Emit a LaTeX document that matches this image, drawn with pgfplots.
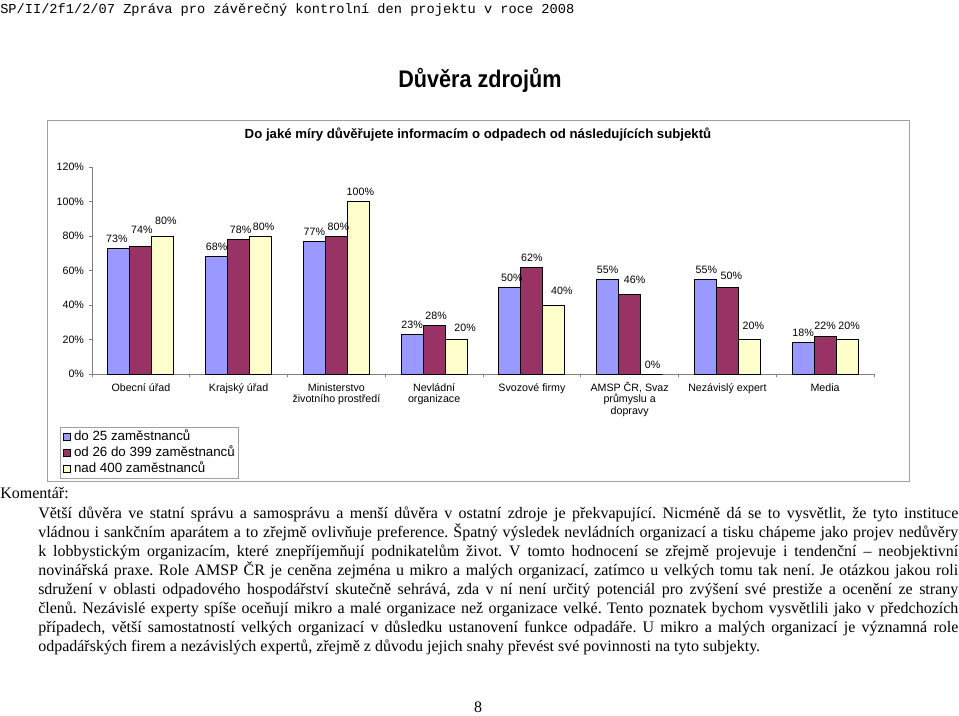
\documentclass[border=0pt]{standalone}
\usepackage{fontspec}
\setmainfont{Liberation Sans}
\newfontfamily\serif{Liberation Serif}
\newfontfamily\mono{Liberation Mono}
\newfontfamily\narrow[FakeStretch=0.9]{Liberation Sans}
\usepackage{pgfplots}
\usepackage{pgfplotstable}
\pgfplotsset{compat=1.18}
\definecolor{cA}{HTML}{9999FF}
\definecolor{cB}{HTML}{993366}
\definecolor{cC}{HTML}{FFFFCC}
\definecolor{frame}{HTML}{A0A0A0}
\definecolor{axl}{HTML}{808080}
\newcommand\cs{\rule{0pt}{8pt}}

\pgfplotstableread{
x y dx dy
1 73 -2 0
2 68 0 0
3 77 0 0
4 23 0 0
5 50 2 0
6 55 0 0
7 55 1 0
8 18 0 1
}\tA
\pgfplotstableread{
x y dx dy
1 74 1 7
2 78 2 0
3 80 2 0
4 28 2 0
5 62 0 0
6 46 5 5
7 50 4 2
8 22 0 1
}\tB
\pgfplotstableread{
x y dx dy
1 80 3 6
2 80 3 0
3 100 2 0
4 20 9 2
5 40 8 4.5
6 0 1 0
7 20 4 4
8 20 2 4
}\tC

\begin{document}
\begin{tikzpicture}
\begin{scope}[x=0.75pt,y=-0.75pt]
\useasboundingbox (0,0) rectangle (959,715);
\node[anchor=base west,inner sep=0] at (0,13) {\mono\fontsize{10.25}{12}\selectfont SP/II/2f1/2/07 Zpráva pro závěrečný kontrolní den projektu v roce 2008};
\node[anchor=base,inner sep=0] at (480,87) {\narrow\bfseries\fontsize{18}{20}\selectfont Důvěra zdrojům};
\draw[frame, line width=0.75pt] (47,120) rectangle (909,481);
\node[anchor=base,inner sep=0] at (478,138) {\bfseries\fontsize{9.9}{11}\selectfont Do jaké míry důvěřujete informacím o odpadech od následujících subjektů};
\node[anchor=base west, inner sep=0] at (0,498) {\serif\fontsize{12}{14.25}\selectfont Komentář:};
\node[anchor=base west, inner sep=0, text width=690pt, align=justify, font={\serif\fontsize{12}{14.25}\selectfont}] at (38,518) {\hyphenpenalty=10000\frenchspacing
Větší důvěra ve statní správu a samosprávu a menší důvěra v~ostatní zdroje je překvapující. Nicméně dá se to vysvětlit, že tyto instituce\linebreak
vládnou i sankčním aparátem a to zřejmě ovlivňuje preference. Špatný výsledek nevládních organizací a tisku chápeme jako projev nedůvěry\linebreak
k~lobbystickým organizacím, které znepříjemňují podnikatelům život. V~tomto hodnocení se zřejmě projevuje i tendenční – neobjektivní\linebreak
novinářská praxe. Role AMSP ČR je ceněna zejména u mikro a malých organizací, zatímco u velkých tomu tak není. Je otázkou jakou roli\linebreak
sdružení v~oblasti odpadového hospodářství skutečně sehrává, zda v~ní není určitý potenciál pro zvýšení své prestiže a ocenění ze strany\linebreak
členů. Nezávislé experty spíše oceňují mikro a malé organizace než organizace velké. Tento poznatek bychom vysvětlili jako v~předchozích\linebreak
případech, větší samostatností velkých organizací v~důsledku ustanovení funkce odpadáře. U mikro a malých organizací je významná role\linebreak
odpadářských firem a nezávislých expertů, zřejmě z~důvodu jejich snahy převést své povinnosti na tyto subjekty.};
\node[anchor=base, inner sep=0] at (478,712) {\serif\fontsize{12}{14}\selectfont 8};
\end{scope}
\begin{axis}[
  at={(69pt,-280.5pt)}, anchor=south west,
  scale only axis, width=586.5pt, height=155.25pt,
  xmin=0.5, xmax=8.5, ymin=0, ymax=120,
  axis x line*=bottom, axis y line*=left,
  axis line style={-, draw=axl, line width=0.6pt},
  ybar=0pt, bar width=16.5pt,
  ytick={0,20,...,120},
  yticklabel={\pgfmathprintnumber{\tick}\%},
  xtick={0.5,1.5,...,8.5},
  xticklabels={\cs Obecní úřad, \cs Krajský úřad, {\cs Ministerstvo\\životního prostředí}, {\cs Nevládní\\organizace}, \cs Svozové firmy, {\cs AMSP ČR, Svaz\\průmyslu a\\dopravy}, \cs Nezávislý expert, \cs Media, {}},
  tick align=outside, major tick length=2.5pt,
  tick style={draw=axl, line width=0.6pt},
  ticklabel style={font=\fontsize{8}{8.8}\selectfont},
  x tick label style={align=center, xshift=36.65625pt, yshift=1.2pt},
  /pgf/number format/assume math mode=true,
  enlargelimits=false, clip=false,
  point meta=y,
  nodes near coords={\pgfmathprintnumber{\pgfplotspointmeta}\%},
  nodes near coords style={font=\fontsize{8}{9}\selectfont, anchor=center, inner sep=0pt, xshift={0.75pt*\dx}, yshift={0.75pt*(9.5+\dy)}},
  legend style={at={(0,0)}, anchor=north west, xshift=-24pt, yshift=-39.75pt, draw=frame, line width=0.6pt, font=\fontsize{10}{11}\selectfont, cells={anchor=west}, row sep=0pt, inner xsep=2pt, inner ysep=1pt, nodes={inner sep=1pt, text height=7.5pt, text depth=2.5pt}},
  legend image code/.code={\draw[#1, line width=0.5pt] (0pt,-2.6pt) rectangle (5.2pt,2.6pt);},
]
\addplot[fill=cA, draw=black, line width=0.7pt, visualization depends on={\thisrow{dx} \as \dx}, visualization depends on={\thisrow{dy} \as \dy}] table[x=x,y=y] {\tA};
\addplot[fill=cB, draw=black, line width=0.7pt, visualization depends on={\thisrow{dx} \as \dx}, visualization depends on={\thisrow{dy} \as \dy}] table[x=x,y=y] {\tB};
\addplot[fill=cC, draw=black, line width=0.7pt, visualization depends on={\thisrow{dx} \as \dx}, visualization depends on={\thisrow{dy} \as \dy}] table[x=x,y=y] {\tC};
\legend{\hspace{1.5pt}do 25 zaměstnanců, \hspace{1.5pt}od 26 do 399 zaměstnanců, \hspace{1.5pt}nad 400 zaměstnanců}
\end{axis}
\end{tikzpicture}
\end{document}
